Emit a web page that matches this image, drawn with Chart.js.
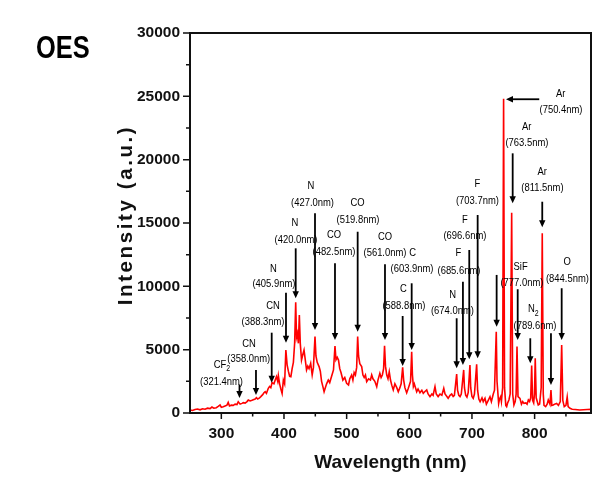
<!DOCTYPE html>
<html>
<head>
<meta charset="utf-8">
<script src="https://cdn.jsdelivr.net/npm/chart.js@4.4.1/dist/chart.umd.min.js"></script>
<style>
  html, body { margin: 0; padding: 0; background: #fff; }
  #wrap { position: relative; width: 594px; height: 480px; }
</style>
</head>
<body>
<div id="wrap"><canvas id="oes" width="594" height="480"></canvas></div>
<script>
/* ============================= */
/*        SPECTRUM DATA          */
/* ============================= */
const wavelengths = [
  250, 254, 258, 262, 266, 270, 274, 278, 282, 285,
  288, 292, 295, 298, 300, 303, 306, 309, 311, 313,
  316, 319, 322, 325, 327, 330, 333, 335, 338, 341,
  343, 346, 349, 351, 354, 356, 358, 361, 363, 366,
  368, 370, 372, 375, 377, 379, 381, 384, 386, 388,
  390, 391, 393, 395, 397, 399, 401, 403, 405, 407,
  409, 411, 413, 415, 417, 418.7, 420, 421.3, 423, 424.5,
  426, 428, 430, 432, 434, 436, 438, 440, 442.6, 445,
  447, 449.5, 451, 453, 456, 458, 460, 462, 464, 466,
  468, 470.7, 473, 476, 479, 481.4, 483, 485, 487, 489,
  491, 494, 497, 500, 503, 505, 508, 510, 512, 514,
  516, 517.6, 519, 521, 524, 526, 528, 530, 532, 535,
  538, 540, 542, 545, 548, 550, 553, 555, 557, 559,
  560.5, 562, 564, 566, 568, 570, 572, 574.4, 577, 580,
  582.4, 585, 587, 589.4, 591, 593, 595.8, 598, 600, 602,
  603.8, 605, 606.5, 608, 611.8, 614, 617, 620, 622.3, 625,
  627.8, 630, 633, 636, 638, 641, 643, 646, 649, 652,
  655, 657, 660, 662, 665, 667.6, 670, 672, 675.6, 677,
  679, 681, 683, 686.8, 688, 690, 692, 694, 696.8, 698,
  700, 702, 704, 707.5, 709, 711, 713, 716, 718, 720.8,
  723, 726, 728.8, 731, 734, 736, 738.8, 740, 742.6, 744,
  745.8, 747, 749, 750.5, 752, 754, 755.4, 757, 759, 761,
  763.4, 765, 767, 769, 770.5, 771.9, 773.5, 776.6, 779, 781,
  783, 786, 788, 790, 792, 793.8, 795.3, 796.8, 798.5, 799.8,
  801, 802.5, 805.8, 808, 810.5, 812.2, 813.8, 815, 817.6, 820,
  821.8, 824.5, 826.1, 827.5, 829.8, 832, 835.2, 838, 841, 843.2,
  845, 847.3, 850, 852, 853.5, 856.5, 860, 865, 872, 878,
  884, 890
];
const intensities = [
  240, 200, 280, 310, 250, 330, 300, 380, 350, 470,
  380, 420, 520, 630, 450, 500, 560, 620, 840, 560,
  620, 600, 700, 660, 890, 700, 760, 820, 780, 900,
  1030, 950, 1000, 1040, 1100, 1210, 1100, 1200, 1290, 1450,
  1600, 1680, 1550, 1950, 2100, 2000, 2400, 2300, 2600, 2870,
  2500, 2950, 2300, 1900, 1550, 2600, 2300, 4970, 3800, 3300,
  2900, 2870, 3500, 4000, 5500, 8740, 6000, 6290, 5500, 7740,
  5500, 4180, 4600, 4970, 4200, 3400, 3700, 3500, 3920, 3000,
  3600, 6030, 4500, 4000, 3660, 3300, 2500, 2100, 1680, 2000,
  2300, 2600, 2400, 2900, 3400, 5290, 4200, 4400, 4180, 3500,
  3200, 2600, 2800, 2340, 2210, 2700, 3000, 2600, 3200, 3000,
  3600, 6030, 4500, 3900, 3660, 3000, 2800, 3000, 2470, 2700,
  2600, 3000, 2700, 2500, 2080, 2600, 3130, 2800, 3000, 3500,
  5310, 3700, 3000, 2700, 3260, 2600, 2200, 1820, 2300, 2000,
  1680, 2000, 2300, 3600, 2600, 2000, 1600, 1900, 2200, 2500,
  4840, 3000, 2080, 2300, 1680, 1900, 1600, 1800, 1550, 1700,
  1820, 1500, 1290, 1500, 1400, 2080, 1500, 1300, 1500, 1400,
  1950, 1500, 1300, 1160, 1400, 1500, 1300, 1400, 3080, 1800,
  1400, 1290, 1500, 3400, 2000, 1400, 1250, 1600, 3790, 2000,
  1300, 1150, 1500, 3840, 1800, 1100, 890, 1200, 900, 1160,
  700, 1000, 1290, 900, 1500, 1800, 6420, 2500, 760, 1100,
  1290, 900, 2000, 24800, 2000, 600, 500, 800, 1030, 1500,
  15800, 1500, 630, 900, 1500, 5240, 1300, 1160, 700, 900,
  760, 800, 700, 1030, 900, 1200, 3740, 1000, 800, 1500,
  4320, 1200, 630, 700, 2000, 14200, 1500, 600, 500, 700,
  1030, 700, 1815, 600, 630, 700, 760, 600, 900, 5370,
  1000, 500, 600, 1260, 500, 370, 300, 280, 240, 260,
  280, 290
];

/* ============================= */
/*          AXIS TICKS           */
/* ============================= */
const xMajorTicks = [300, 400, 500, 600, 700, 800];
const xMinorTicks = [350, 450, 550, 650, 750, 850];
const yMajorTicks = [0, 5000, 10000, 15000, 20000, 25000, 30000];
const yMinorTicks = [2500, 7500, 12500, 17500, 22500, 27500];

/* ============================= */
/*     PEAK LABELS & ARROWS      */
/* ============================= */
// label text ("|" marks a subscript), wavelength and intensity of its centre
const labelText = [
  'CF|2', '(321.4nm)', 'CN', '(358.0nm)', 'CN', '(388.3nm)', 'N', '(405.9nm)',
  'N', '(420.0nm)', 'N', '(427.0nm)', 'CO', '(482.5nm)', 'CO', '(519.8nm)',
  'CO', '(561.0nm)', 'C', '(603.9nm)', 'C', '(588.8nm)', 'N', '(674.0nm)',
  'F', '(685.6nm)', 'F', '(696.6nm)', 'F', '(703.7nm)', 'Ar', '(750.4nm)',
  'Ar', '(763.5nm)', 'Ar', '(811.5nm)', 'SiF', '(777.0nm)', 'N|2', '(789.6nm)',
  'O', '(844.5nm)'
];
const labelNm = [
  301, 300.3, 344.2, 343.8, 382.5, 366.5, 383, 384,
  417.6, 419.2, 443.1, 445.5, 479.8, 479.8, 517.3, 518.1,
  561.2, 561.2, 605.4, 604.3, 590.4, 591.5, 669.2, 668.9,
  678.2, 679.3, 688.8, 688.8, 708.5, 708.8, 841.6, 842.1,
  787.3, 787.8, 812.2, 812.5, 777.7, 779.8, 797.9, 800.6,
  852.1, 852.4
];
const labelInt = [
  3830, 2490, 5500, 4240, 8450, 7210, 11420, 10160,
  15020, 13710, 17920, 16600, 14050, 12730, 16560, 15240,
  13870, 12610, 12610, 11350, 9770, 8450, 9320, 8050,
  12610, 11230, 15240, 13970, 18060, 16740, 25180, 23920,
  22560, 21340, 19050, 17790, 11550, 10290, 8190, 6870,
  11950, 10630
];
// vertical arrows: wavelength, tail intensity, head intensity
const arrowNm = [
  329, 355.3, 380.4, 403.2, 418.7, 449.5, 481.4, 517.6, 561.2, 603.8, 589.4,
  675.6, 685.6, 695.7, 709.1, 739.4, 765, 812.2, 773, 793.1, 826.1, 843.2
];
const arrowFrom = [
  2250, 3400, 6340, 9500, 13000, 15770, 11820, 14310, 11740, 10240, 7660,
  7480, 10370, 12870, 15630, 10900, 20500, 16680, 9770, 5900, 6290, 9850
];
const arrowTo = [
  1180, 1420, 2390, 5550, 9060, 6550, 5760, 6420, 5760, 4970, 3710,
  3530, 3790, 4240, 4320, 6810, 16560, 14660, 5760, 3920, 2210, 5760
];
// horizontal Ar (750.4nm) arrow: tail and head wavelength, intensity
const hArrowNm = [807.4, 754.3];
const hArrowInt = 24770;

/* ============================= */
/*       DRAWING HELPERS         */
/* ============================= */
const INK = '#111';
const AXIS_FONT = '"Liberation Sans", Arial, sans-serif';
const NARROW = 0.82; // squeeze Liberation Sans to a narrow face

function drawArrow(ctx, x1, y1, x2, y2) {
    const ang = Math.atan2(y2 - y1, x2 - x1);
    const len = 7, half = 3.2;
    ctx.beginPath();
    ctx.moveTo(x1, y1);
    ctx.lineTo(x2 - Math.cos(ang) * len * 0.8, y2 - Math.sin(ang) * len * 0.8);
    ctx.stroke();
    ctx.beginPath();
    ctx.moveTo(x2, y2);
    ctx.lineTo(x2 - Math.cos(ang) * len - Math.sin(ang) * half, y2 - Math.sin(ang) * len + Math.cos(ang) * half);
    ctx.lineTo(x2 - Math.cos(ang) * len + Math.sin(ang) * half, y2 - Math.sin(ang) * len - Math.cos(ang) * half);
    ctx.closePath();
    ctx.fill();
}

// narrow text: draw squeezed horizontally around its centre
function drawLabel(ctx, text, cx, cy) {
    const [main, sub] = text.split('|');
    ctx.save();
    ctx.translate(cx, cy);
    ctx.scale(NARROW, 1);
    ctx.font = '11.5px ' + AXIS_FONT;
    const wMain = ctx.measureText(main).width;
    let wSub = 0;
    if (sub) {
        ctx.font = '8.5px ' + AXIS_FONT;
        wSub = ctx.measureText(sub).width;
    }
    const left = -(wMain + wSub) / 2;
    ctx.textAlign = 'left';
    ctx.textBaseline = 'middle';
    ctx.font = '11.5px ' + AXIS_FONT;
    ctx.fillText(main, left, 0);
    if (sub) {
        ctx.font = '8.5px ' + AXIS_FONT;
        ctx.fillText(sub, left + wMain, 4);
    }
    ctx.restore();
}

const oesPlugin = {
    id: 'oesMarks',
    afterDatasetsDraw(chart) {
        const { ctx, chartArea: a, scales: { x, y } } = chart;
        ctx.save();

        // frame
        ctx.strokeStyle = INK;
        ctx.lineWidth = 2;
        ctx.strokeRect(a.left, a.top, a.right - a.left, a.bottom - a.top);

        // ticks (outside)
        ctx.lineWidth = 1.5;
        ctx.beginPath();
        yMajorTicks.forEach(v => { const p = y.getPixelForValue(v); ctx.moveTo(a.left, p); ctx.lineTo(a.left - 7, p); });
        yMinorTicks.forEach(v => { const p = y.getPixelForValue(v); ctx.moveTo(a.left, p); ctx.lineTo(a.left - 4, p); });
        xMajorTicks.forEach(v => { const p = x.getPixelForValue(v); ctx.moveTo(p, a.bottom); ctx.lineTo(p, a.bottom + 6); });
        xMinorTicks.forEach(v => { const p = x.getPixelForValue(v); ctx.moveTo(p, a.bottom); ctx.lineTo(p, a.bottom + 3.5); });
        ctx.stroke();

        // peak labels
        ctx.fillStyle = '#000';
        labelText.forEach((t, i) => {
            drawLabel(ctx, t, x.getPixelForValue(labelNm[i]), y.getPixelForValue(labelInt[i]));
        });

        // arrows
        ctx.strokeStyle = '#000';
        ctx.fillStyle = '#000';
        ctx.lineWidth = 1.8;
        arrowNm.forEach((nm, i) => {
            const px = x.getPixelForValue(nm);
            drawArrow(ctx, px, y.getPixelForValue(arrowFrom[i]), px, y.getPixelForValue(arrowTo[i]));
        });
        const hy = y.getPixelForValue(hArrowInt);
        drawArrow(ctx, x.getPixelForValue(hArrowNm[0]), hy, x.getPixelForValue(hArrowNm[1]), hy);

        // y axis title
        ctx.save();
        ctx.translate(a.left - 64, 215);
        ctx.rotate(-Math.PI / 2);
        ctx.font = 'bold 20.5px ' + AXIS_FONT;
        ctx.letterSpacing = '2.6px';
        ctx.textAlign = 'center';
        ctx.textBaseline = 'middle';
        ctx.fillStyle = INK;
        ctx.fillText('Intensity (a.u.)', 0, 0);
        ctx.restore();

        // panel tag
        ctx.save();
        ctx.translate(36, 58);
        ctx.scale(NARROW, 1);
        ctx.font = 'bold 31px ' + AXIS_FONT;
        ctx.textAlign = 'left';
        ctx.textBaseline = 'alphabetic';
        ctx.fillStyle = '#000';
        ctx.fillText('OES', 0, 0);
        ctx.restore();

        ctx.restore();
    }
};

/* ============================= */
/*            CHART              */
/* ============================= */
const tickFont = { family: AXIS_FONT, size: 15.5, weight: 'bold' };

new Chart(document.getElementById('oes').getContext('2d'), {
    type: 'line',
    data: {
        labels: wavelengths,
        datasets: [{
            data: wavelengths.map((w, i) => ({ x: w, y: intensities[i] })),
            borderColor: '#ff0000',
            borderWidth: 1.6,
            pointRadius: 0,
            tension: 0,
            fill: false
        }]
    },
    options: {
        responsive: false,
        animation: false,
        devicePixelRatio: 1,
        layout: { padding: { top: 33, right: 3, left: 0, bottom: 0 } },
        plugins: { legend: { display: false }, tooltip: { enabled: false } },
        scales: {
            x: {
                type: 'linear',
                min: 250,
                max: 890,
                afterBuildTicks: s => { s.ticks = xMajorTicks.map(v => ({ value: v })); },
                afterFit: s => { s.height = 67; },
                grid: { display: false, drawTicks: false },
                border: { display: false },
                ticks: { font: tickFont, color: INK, padding: 11, maxRotation: 0, autoSkip: false,
                         callback: v => String(v) },
                title: {
                    display: true,
                    text: 'Wavelength (nm)',
                    color: INK,
                    font: { family: AXIS_FONT, size: 19, weight: 'bold' },
                    padding: { top: 0, bottom: 6 }
                }
            },
            y: {
                min: 0,
                max: 30000,
                afterBuildTicks: s => { s.ticks = yMajorTicks.map(v => ({ value: v })); },
                afterFit: s => { s.width = 190; },
                grid: { display: false, drawTicks: false },
                border: { display: false },
                ticks: { font: tickFont, color: INK, padding: 10, callback: v => String(v) }
            }
        }
    },
    plugins: [oesPlugin]
});
</script>
</body>
</html>
